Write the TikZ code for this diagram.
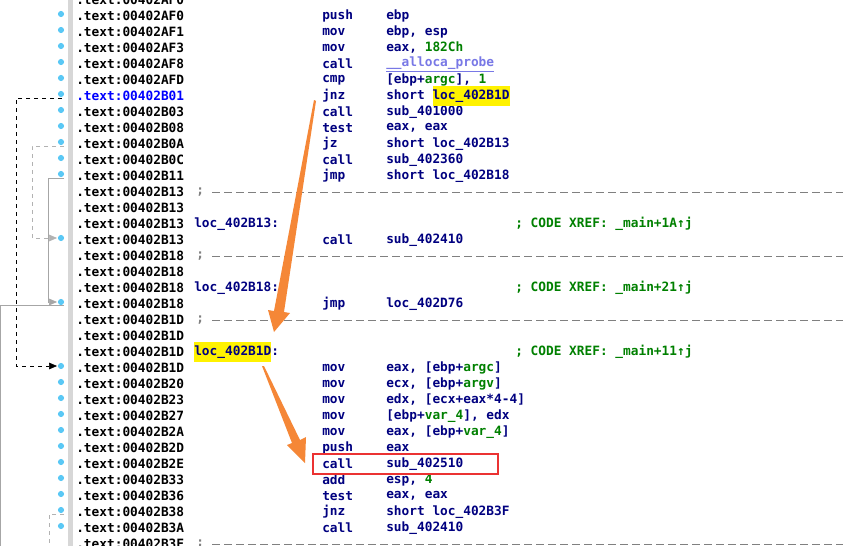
\documentclass[tikz,border=0pt]{standalone}
\usepackage{fontspec}
\setmonofont{DejaVu Sans Mono}
\usepackage{xcolor}
\usepackage{tikz}
\usetikzlibrary{arrows.meta}
\definecolor{idanavy}{RGB}{0,0,128}
\definecolor{idagreen}{RGB}{0,128,0}
\definecolor{idadot}{RGB}{90,200,245}
\definecolor{idaorange}{RGB}{245,135,55}
\definecolor{idared}{RGB}{235,50,50}
\definecolor{idalib}{RGB}{120,120,230}
\definecolor{idasep}{RGB}{215,215,215}
\tikzset{
  txt/.style={anchor=west,inner sep=0pt,font=\ttfamily\bfseries\fontsize{9.6}{11}\selectfont},
  addr/.style={txt,black},
  ins/.style={txt,idanavy},
  cmt/.style={txt,idagreen},
  flow/.style={-{Triangle[width=5pt,length=6pt]}},
  sepline/.style={gray,dashed,dash pattern=on 6pt off 3pt,thin},
}
\newcommand{\gr}[1]{\textcolor{idagreen}{#1}}
\begin{document}
\begin{tikzpicture}[x=0.75pt,y=-0.75pt]
    \useasboundingbox[fill=white] (0,0) rectangle (843,546);
    % separator bar
    \fill[idasep] (68,0) rectangle (73,546);
    % Draw the addresses
    \foreach \a [count=\i from 0] in {AF0,AF0,AF1,AF3,AF8,AFD,B01,B03,B08,B0A,B0C,B11,B13,B13,B13,B13,B18,B18,B18,B18,B1D,B1D,B1D,B1D,B20,B23,B27,B2A,B2D,B2E,B33,B36,B38,B3A,B3F} {
      \ifnum\i=6 \def\acol{blue}\else\def\acol{black}\fi
      \node[addr,text=\acol] (a\i) at (76,\i*16) {.text:00402\a};
    }
    % Draw the dots
    \foreach \i in {1,...,11,15,19,23,24,...,33}
      \fill[idadot] (61,\i*16-2) circle (2.3pt);
    % Draw the instructions
    \foreach \i/\m/\o in {1/push/ebp, 2/mov/{ebp, esp}, 3/mov/{eax, \gr{182Ch}},
        5/cmp/{[ebp+\gr{argc}], \gr{1}}, 7/call/sub\_401000, 8/test/{eax, eax},
        9/jz/short loc\_402B13, 10/call/sub\_402360, 11/jmp/short loc\_402B18,
        15/call/sub\_402410, 19/jmp/loc\_402D76, 23/mov/{eax, [ebp+\gr{argc}]},
        24/mov/{ecx, [ebp+\gr{argv}]}, 25/mov/{edx, [ecx+eax*4-4]},
        26/mov/{[ebp+\gr{var\_4}], edx}, 27/mov/{eax, [ebp+\gr{var\_4}]},
        28/push/eax, 29/call/sub\_402510, 30/add/{esp, \gr{4}}, 31/test/{eax, eax},
        32/jnz/short loc\_402B3F, 33/call/sub\_402410} {
      \node[ins] (m\i) at (322,\i*16) {\m};
      \node[ins] (o\i) at (386,\i*16) {\o};
    }
    \node[ins] (m4) at (322,64) {call};
    \node[ins,idalib] (o4) at (386,64) {\underline{\_\_alloca\_probe}};
    \node[ins] (m6) at (322,96) {jnz};
    \node[ins] (o6) at (386,96) {short \colorbox{yellow}{\kern-3pt loc\_402B1D\kern-3pt}};
    % labels and comments
    \node[ins] (l14) at (194,224) {loc\_402B13:};
    \node[ins] (l18) at (194,288) {loc\_402B18:};
    \node[ins] (l22) at (194,352) {\colorbox{yellow}{\kern-3pt loc\_402B1D\kern-3pt}:};
    \node[cmt] (c14) at (515,224) {; CODE XREF: \_main+1A↑j};
    \node[cmt] (c18) at (515,288) {; CODE XREF: \_main+21↑j};
    \node[cmt] (c22) at (515,352) {; CODE XREF: \_main+11↑j};
    % separators
    \foreach \i in {12,16,20,34} {
      \node[txt,gray] at (196,\i*16) {;};
      \draw[sepline] (212,\i*16) -- (843,\i*16);
    }
    % flow arrows
    \draw[flow,black,dashed] (62,98) -- (16,98) -- (16,366) -- (57,366);
    \draw[flow,gray!60,dashed] (64,146) -- (32,146) -- (32,238) -- (57,238);
    \draw[flow,gray!70] (64,178) -- (48,178) -- (48,302) -- (57,302);
    \draw[gray!70] (64,305) -- (0,305) -- (0,546);
    \draw[gray!60,dashed] (64,514) -- (49,514) -- (49,546);
    % highlight box
    \draw[idared,line width=2pt] (313,454) rectangle (498,474);
    % orange pointers
    \fill[idaorange] (314,100) -- (316,101) -- (284,312) -- (290,313) -- (274,332)
      -- (268,310) -- (274,311) -- cycle;
    \fill[idaorange] (262,366) -- (264,366) -- (300,440) -- (306,437) -- (305,463)
      -- (287,445) -- (292,443) -- cycle;
\end{tikzpicture}
\end{document}
